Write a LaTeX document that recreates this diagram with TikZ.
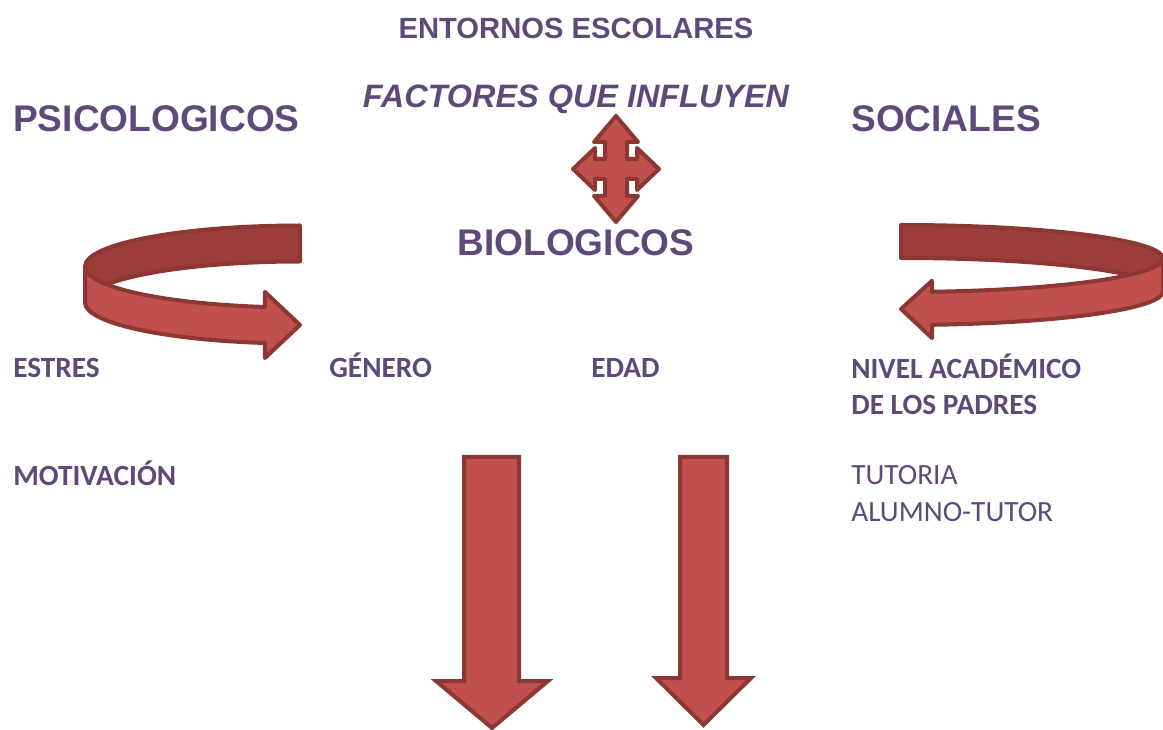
\documentclass[tikz,border=0pt]{standalone}
\usepackage{fontspec}
\setmainfont{Liberation Sans}
\newfontfamily\carlito{Carlito}
\definecolor{titlepurple}{HTML}{5F497A}
\definecolor{arrowfill}{HTML}{C0504D}
\definecolor{arrowback}{HTML}{9B3D3B}
\definecolor{arrowedge}{HTML}{8C3734}
\begin{document}
\begin{tikzpicture}[x=0.75pt,y=-0.75pt,
  heading/.style={inner sep=0pt,anchor=base,text=titlepurple,font=\bfseries\fontsize{27.8}{33}\selectfont},
  factor/.style={inner sep=0pt,anchor=base west,align=left,text=titlepurple,font=\carlito\fontsize{22}{27.6}\selectfont},
  ribbon/.style={draw=arrowedge,line width=3pt,line join=round}]
% pixel grid, y downwards
\useasboundingbox (0,0) rectangle (1163,730);
\node[heading,font=\bfseries\fontsize{21.9}{26}\selectfont] (entornos) at (576,38.5) {ENTORNOS ESCOLARES};
\node[heading,font=\bfseries\itshape\fontsize{24.3}{29}\selectfont] (factores) at (576,108) {FACTORES QUE INFLUYEN};
\node[heading,anchor=base west] (psico) at (13,132) {PSICOLOGICOS};
\node[heading,anchor=base west] (sociales) at (851,132) {SOCIALES};
\node[heading] (bio) at (576,256) {BIOLOGICOS};
\node[factor,font=\carlito\bfseries\fontsize{22}{27.6}\selectfont] (estres) at (13,378) {ESTRES};
\node[factor,font=\carlito\bfseries\fontsize{22}{27.6}\selectfont] (genero) at (329,378) {GÉNERO};
\node[factor,font=\carlito\bfseries\fontsize{22}{27.6}\selectfont] (edad) at (591,378) {EDAD};
\node[factor,font=\carlito\bfseries\fontsize{22}{27.6}\selectfont] (nivel) at (851,415) {NIVEL ACADÉMICO\\DE LOS PADRES};
\node[factor,font=\carlito\bfseries\fontsize{22}{27.6}\selectfont] (motiv) at (13,485) {MOTIVACIÓN};
\node[factor] (tutoria) at (851,521) {TUTORIA\\ALUMNO-TUTOR};
% left turning arrow
\filldraw[ribbon,fill=arrowback] (300,225.5)
 arc[start angle=270,end angle=180,x radius=215,y radius=41]
 -- (85,302.5)
 arc[start angle=180,end angle=270,x radius=215,y radius=41] -- cycle;
\filldraw[ribbon,fill=arrowfill] (85,266.5)
 arc[start angle=180,end angle=99.4,x radius=215,y radius=41]
 -- ++(0,-15) -- (300,325) -- (264.9,358) -- ++(0,-15)
 arc[start angle=99.4,end angle=180,x radius=215,y radius=41] -- cycle;
% right turning arrow
\filldraw[ribbon,fill=arrowback] (901,225)
 arc[start angle=270,end angle=360,x radius=262,y radius=33.5]
 -- (1163,291.5)
 arc[start angle=360,end angle=270,x radius=262,y radius=33.5] -- cycle;
\filldraw[ribbon,fill=arrowfill] (1163,258.5)
 arc[start angle=0,end angle=83.2,x radius=262,y radius=33.5]
 -- ++(0,-11) -- (901,309) -- (932,338) -- ++(0,-13.2)
 arc[start angle=83.2,end angle=0,x radius=262,y radius=33.5] -- cycle;
% four way arrow
\filldraw[ribbon,fill=arrowfill,shift={(616,169)}] (0,-53)
 -- (22,-27) -- (11,-27) -- (11,-10) -- (21,-10) -- (21,-21)
 -- (43,0) -- (21,21) -- (21,10) -- (11,10) -- (11,27) -- (22,27)
 -- (0,53) -- (-22,27) -- (-11,27) -- (-11,10) -- (-21,10) -- (-21,21)
 -- (-43,0) -- (-21,-21) -- (-21,-10) -- (-11,-10) -- (-11,-27) -- (-22,-27) -- cycle;
% down arrows
\filldraw[ribbon,line join=miter,fill=arrowfill] (464,457) -- (519,457) -- (519,681)
 -- (548,681) -- (492,728) -- (436,681) -- (464,681) -- cycle;
\filldraw[ribbon,line join=miter,fill=arrowfill] (680,457) -- (727,457) -- (727,678)
 -- (751,678) -- (703.5,725) -- (656,678) -- (680,678) -- cycle;
\end{tikzpicture}
\end{document}
